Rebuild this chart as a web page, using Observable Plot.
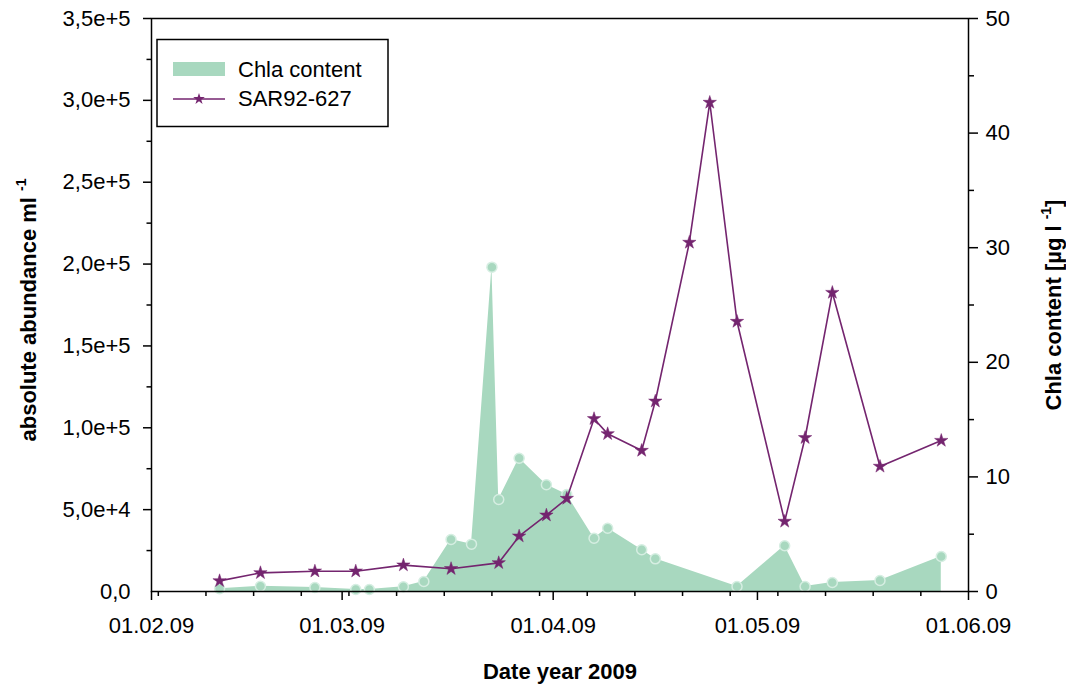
<!DOCTYPE html>
<html><head><meta charset="utf-8">
<script src="https://cdn.jsdelivr.net/npm/d3@7"></script>
<script src="https://cdn.jsdelivr.net/npm/@observablehq/plot@0.6"></script>
<style>body{margin:0;background:#fff} #chart{width:1066px;height:688px}</style>
</head><body><div id="chart"></div>
<script>
// Chla content (µg l-1), right axis
const chlaDates = ["2009-02-11","2009-02-17","2009-02-25","2009-03-03","2009-03-05","2009-03-10","2009-03-13","2009-03-17","2009-03-20","2009-03-23","2009-03-24","2009-03-27","2009-03-31","2009-04-03","2009-04-07","2009-04-09","2009-04-14","2009-04-16","2009-04-28","2009-05-05","2009-05-08","2009-05-12","2009-05-19","2009-05-28"];
const chlaValues = [0.24,0.46,0.35,0.17,0.17,0.41,0.87,4.54,4.13,28.3,8.03,11.63,9.31,8.46,4.65,5.52,3.64,2.85,0.44,3.99,0.44,0.79,0.96,3.05];
// SAR92-627 absolute abundance (ml-1), left axis
const sarDates = ["2009-02-11","2009-02-17","2009-02-25","2009-03-03","2009-03-10","2009-03-17","2009-03-24","2009-03-27","2009-03-31","2009-04-03","2009-04-07","2009-04-09","2009-04-14","2009-04-16","2009-04-21","2009-04-24","2009-04-28","2009-05-05","2009-05-08","2009-05-12","2009-05-19","2009-05-28"];
const sarValues = [6500,11400,12400,12400,16100,13900,17500,33800,46600,56800,105500,96300,86100,116200,213200,298700,164900,42800,93900,182600,76400,92200];

const xTickDates = ["2009-02-01","2009-03-01","2009-04-01","2009-05-01","2009-06-01"];
const xTickLabels = ["01.02.09","01.03.09","01.04.09","01.05.09","01.06.09"];
const leftTickValues = [0,50000,100000,150000,200000,250000,300000,350000];
const leftTickLabels = ["0,0","5,0e+4","1,0e+5","1,5e+5","2,0e+5","2,5e+5","3,0e+5","3,5e+5"];
const leftMinorValues = [25000,75000,125000,175000,225000,275000,325000];
const rightTickValues = [0,10,20,30,40,50];
const rightTickLabels = ["0","10","20","30","40","50"];
const rightMinorValues = [5,15,25,35,45];

const leftMax = 350000, rightMax = 50;
const K = leftMax / rightMax;

const areaColor = "#a8d8bf";
const ringColor = "#d6eee2";
const purple = "#74256f";

const chla = chlaDates.map((d, i) => ({date: new Date(d), value: chlaValues[i] * K}));
const sar = sarDates.map((d, i) => ({date: new Date(d), value: sarValues[i]}));
const xTicks = xTickDates.map(d => new Date(d));
const xMinor = d3.utcMonday.range(new Date("2009-02-01"), new Date("2009-06-01"));

const plot = Plot.plot({
  width: 1066, height: 688,
  marginLeft: 151, marginRight: 98, marginTop: 18, marginBottom: 97,
  style: {fontFamily: "'Liberation Sans', Arial, sans-serif", fontSize: "22px", background: "white", color: "black"},
  x: {type: "utc", domain: [new Date("2009-02-01"), new Date("2009-06-01")]},
  y: {domain: [0, leftMax]},
  marks: [
    Plot.areaY(chla, {x: "date", y: "value", fill: areaColor}),
    Plot.dot(chla, {x: "date", y: "value", r: 5, fill: areaColor, stroke: ringColor, strokeWidth: 1.5}),
    Plot.line(sar, {x: "date", y: "value", stroke: purple, strokeWidth: 1.6}),
    Plot.dot(sar, {x: "date", y: "value", symbol: "star", r: 4.2, fill: purple, stroke: purple, strokeWidth: 0.5}),
    Plot.frame({stroke: "black", strokeWidth: 1.5}),
    // x axis
    Plot.axisX(xTicks, {tickSize: 9, tickPadding: 17, strokeWidth: 1.5, label: null,
      tickFormat: d => xTickLabels[xTicks.findIndex(t => +t === +d)]}),
    Plot.axisX(xMinor, {tickSize: 5, strokeWidth: 1.5, fill: "none", label: null}),
    // left axis
    Plot.axisY(leftTickValues, {tickSize: 0, tickPadding: 21, label: null,
      tickFormat: d => leftTickLabels[leftTickValues.indexOf(d)]}),
    Plot.axisY(leftTickValues.slice(1), {tickSize: 8, strokeWidth: 1.5, fill: "none", label: null}),
    Plot.axisY(leftMinorValues, {tickSize: 4.5, strokeWidth: 1.5, fill: "none", label: null}),
    // right axis
    Plot.axisY(rightTickValues.map(v => v * K), {anchor: "right", tickSize: 9, tickPadding: 8, strokeWidth: 1.5, label: null,
      tickFormat: d => rightTickLabels[rightTickValues.indexOf(Math.round(d / K))]}),
    Plot.axisY(rightMinorValues.map(v => v * K), {anchor: "right", tickSize: 5, strokeWidth: 1.5, fill: "none", label: null})
  ]
});

const svg = d3.select(plot);
const font = "'Liberation Sans', Arial, sans-serif";

// axis titles
const lt = svg.append("text").attr("transform", "translate(36,310) rotate(-90)")
  .attr("text-anchor", "middle").attr("font-weight", "bold").attr("font-size", 22).attr("font-family", font).attr("fill", "black");
lt.append("tspan").text("absolute abundance ml ");
lt.append("tspan").attr("font-size", 14).attr("dy", -10).text("-1");

const rt = svg.append("text").attr("transform", "translate(1061,305) rotate(-90)")
  .attr("text-anchor", "middle").attr("font-weight", "bold").attr("font-size", 22).attr("font-family", font).attr("fill", "black");
rt.append("tspan").text("Chla content [µg l ");
rt.append("tspan").attr("font-size", 14).attr("dy", -10).text("-1");
rt.append("tspan").attr("dy", 10).text("]");

svg.append("text").attr("x", 560).attr("y", 679).attr("text-anchor", "middle")
  .attr("font-weight", "bold").attr("font-size", 22).attr("font-family", font).attr("fill", "black")
  .text("Date year 2009");

// legend
const lg = svg.append("g").attr("text-anchor", "start");
lg.append("rect").attr("x", 157).attr("y", 39.5).attr("width", 231).attr("height", 87)
  .attr("fill", "white").attr("stroke", "black").attr("stroke-width", 1.5);
lg.append("rect").attr("x", 173).attr("y", 62).attr("width", 52).attr("height", 14).attr("fill", areaColor);
lg.append("text").attr("x", 238).attr("y", 77).attr("text-anchor", "start").attr("font-size", 22).attr("font-family", font).attr("fill", "black").text("Chla content");
lg.append("line").attr("x1", 173).attr("x2", 225).attr("y1", 99).attr("y2", 99).attr("stroke", purple).attr("stroke-width", 1.6);
lg.append("path").attr("d", d3.symbol(d3.symbolStar, 42)()).attr("transform", "translate(199,99)").attr("fill", purple);
lg.append("text").attr("x", 238).attr("y", 106).attr("text-anchor", "start").attr("font-size", 22).attr("font-family", font).attr("fill", "black").text("SAR92-627");

document.getElementById("chart").append(plot);
</script>
</body></html>
